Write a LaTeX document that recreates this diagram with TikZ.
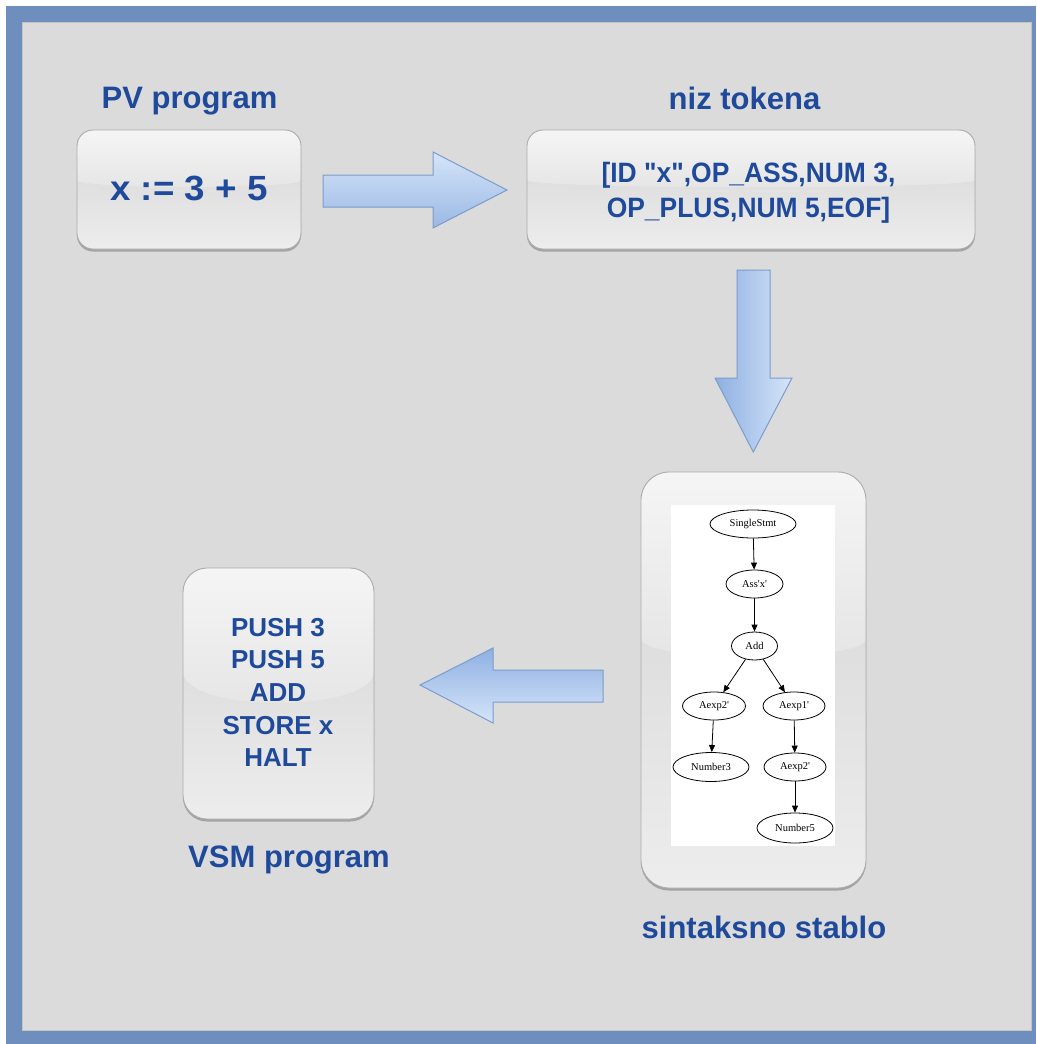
\documentclass[tikz,border=0pt]{standalone}
\usepackage{fontspec}
\usepackage{graphicx}
\setmainfont{Liberation Sans}
\newfontfamily\treefont{Liberation Serif}
\usetikzlibrary{arrows.meta,shapes.geometric,calc,shadows}

\definecolor{frameblue}{HTML}{6E8FBE}
\definecolor{panel}{HTML}{DBDBDB}
\definecolor{panelline}{HTML}{C4C4C4}
\definecolor{ink}{HTML}{1F4A9C}
\definecolor{boxedge}{HTML}{ABABAB}
\definecolor{ghi}{HTML}{F5F5F5}
\definecolor{ghilo}{HTML}{E5E5E5}
\definecolor{gmid}{HTML}{D4D4D4}
\definecolor{gbot}{HTML}{EDEDED}
\definecolor{arrowedge}{HTML}{7C9CCB}
\definecolor{arrowlight}{HTML}{D5E5F9}
\definecolor{arrowdark}{HTML}{8FB0E2}

\tikzset{
  % rounded panel with a glossy upper half; args: corner radius, gloss edge, gloss dip
  glossbox/.style n args={3}{draw=boxedge, line width=0.9pt, rounded corners=#1, inner sep=0pt,
    drop shadow={shadow xshift=0pt, shadow yshift=-2.5pt, opacity=0.25, fill=black},
    path picture={
      \shade[sharp corners, top color=gmid, bottom color=gbot]
        let \p1=(path picture bounding box.north west),
            \p2=(path picture bounding box.south east),
            \p3=($(\p1)!#2!(\x1,\y2)$) in (\x1,\y3) rectangle (\p2);
      \shade[sharp corners, top color=ghi, bottom color=ghilo]
        let \p1=(path picture bounding box.north west),
            \p2=(path picture bounding box.south east),
            \p3=($(\p1)!#2!(\x1,\y2)$),
            \p4=($(\p1)!#3!(\x1,\y2)$) in
        (\p1) -- (\x1,\y3) .. controls (\x1,\y4) and (\x2,\y4) .. (\x2,\y3) -- (\x2,\y1) -- cycle;
    }},
  lbl/.style={font=\bfseries\fontsize{31}{36}\selectfont, text=ink, inner sep=0pt},
  boxtext/.style={font=\bfseries, text=ink, inner sep=0pt},
  blockarrow/.style={draw=arrowedge, line width=1pt, line join=miter},
  tnode/.style={ellipse, draw=black, line width=0.8pt, inner sep=0pt, minimum height=28pt,
    font=\treefont\fontsize{10.5}{12}\selectfont},
  tedge/.style={draw=black, line width=0.8pt, -{Triangle[length=7pt,width=6pt]}},
}

\begin{document}
\begin{tikzpicture}[x=1pt,y=-1pt]
\useasboundingbox (0,0) rectangle (1036,1044);
% frame and panel
\fill[white] (0,0) rectangle (1036,1044);
\fill[frameblue] (6,6) rectangle (1036,1044);
\filldraw[fill=panel, draw=panelline, line width=1pt] (22,22) rectangle (1031,1030);

% the four panels
\node[glossbox={16pt}{0.42}{0.50}, minimum width=224pt, minimum height=119pt] (pv) at (189,189.5) {};
\node[glossbox={16pt}{0.42}{0.50}, minimum width=448pt, minimum height=119pt] (tok) at (751,189.5) {};
\node[glossbox={28pt}{0.40}{0.46}, minimum width=225pt, minimum height=416pt] (tree) at (753.5,680) {};
\node[glossbox={24pt}{0.41}{0.58}, minimum width=191pt, minimum height=251pt] (vsm) at (278.5,693.5) {};

% captions
\node[lbl, anchor=base] (lpv) at (189.5,108.5) {PV program};
\node[lbl, anchor=base] (ltok) at (744.5,109.5) {niz tokena};
\node[lbl, anchor=base] (lvsm) at (289,867) {VSM program};
\node[lbl, anchor=base] (ltree) at (764,938) {sintaksno stablo};

% panel contents
\node[boxtext, anchor=base] (pvcode) at (189,200) {\scalebox{1.05}[1]{\fontsize{35}{40}\selectfont x := 3 + 5}};
\node[boxtext, font=\bfseries\fontsize{28}{35}\selectfont] (tokcode) at (748.5,192.5)
  {\scalebox{0.944}[1]{\begin{tabular}{@{}c@{}}[ID \textquotedbl x\textquotedbl,OP\_ASS,NUM 3,\\OP\_PLUS,NUM 5,EOF]\end{tabular}}};
\node[boxtext, align=center, font=\bfseries\fontsize{26}{32.7}\selectfont] (vsmcode) at (278,692.5)
  {PUSH 3\\PUSH 5\\ADD\\STORE x\\HALT};

% syntax tree
\node[fill=white, minimum width=164pt, minimum height=341pt, inner sep=0pt] (treeimg) at (753,675.5) {};
\node[tnode, minimum width=86pt] (t1) at (753,524) {SingleStmt};
\node[tnode, minimum width=57pt] (t2) at (754.5,584) {Ass\textquotesingle x\textquotesingle};
\node[tnode, minimum width=46pt] (t3) at (754.5,646) {Add};
\node[tnode, minimum width=63pt] (t4) at (714,706) {Aexp2\textquotesingle};
\node[tnode, minimum width=62pt] (t5) at (794,706) {Aexp1\textquotesingle};
\node[tnode, minimum width=76pt, minimum height=29pt] (t6) at (711,767) {Number3};
\node[tnode, minimum width=62pt] (t7) at (795,767) {Aexp2\textquotesingle};
\node[tnode, minimum width=76pt, minimum height=30pt] (t8) at (795,828) {Number5};
\draw[tedge] (t1) -- (t2);
\draw[tedge] (t2) -- (t3);
\draw[tedge] (t3) -- (t4);
\draw[tedge] (t3) -- (t5);
\draw[tedge] (t4) -- (t6);
\draw[tedge] (t5) -- (t7);
\draw[tedge] (t7) -- (t8);

% block arrows between the panels
\shade[blockarrow, top color=arrowlight, bottom color=arrowdark!90!white]
  (323,175) -- (433,175) -- (433,152) -- (507,190) -- (433,228) -- (433,207) -- (323,207) -- cycle;
\shade[blockarrow, left color=arrowdark, right color=arrowlight]
  (737,270) -- (770,270) -- (770,378) -- (792,378) -- (753.3,452) -- (715,378) -- (737,378) -- cycle;
\shade[blockarrow, top color=arrowdark, bottom color=arrowlight]
  (603,670) -- (493,670) -- (493,648) -- (420,685) -- (493,723) -- (493,702) -- (603,702) -- cycle;
\end{tikzpicture}
\end{document}
